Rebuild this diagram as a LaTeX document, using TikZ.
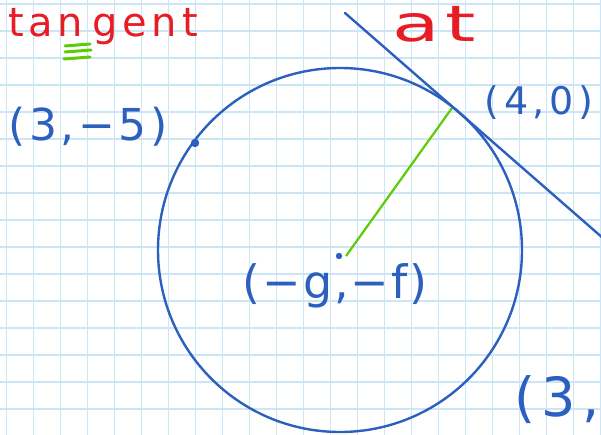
\documentclass[tikz,border=0pt]{standalone}
\usepackage{fontspec}
\setmainfont{DejaVu Sans}
\definecolor{inkBlue}{RGB}{44,96,190}
\definecolor{inkRed}{RGB}{232,28,36}
\definecolor{inkGreen}{RGB}{92,204,8}
\definecolor{gridBlue}{RGB}{204,230,248}

\begin{document}
\begin{tikzpicture}[
    x=1pt, y=-1pt,
    % Styles
    gridline/.style={draw=gridBlue, line width=1.3pt},
    ink/.style={draw=inkBlue, line width=2.4pt, line cap=round},
    radius line/.style={draw=inkGreen, line width=2.2pt},
    bluetext/.style={
        text=inkBlue,
        inner sep=0pt,
        font=\fontsize{40}{40}\selectfont\addfontfeatures{LetterSpace=12}
    },
    redtext/.style={
        text=inkRed,
        inner sep=0pt,
        font=\fontsize{40}{40}\selectfont\addfontfeatures{LetterSpace=12}
    }
]

    % ---------------------------------------------------------
    % PAPER: background and squared grid
    % ---------------------------------------------------------
    \useasboundingbox (0,0) rectangle (601,435);
    \clip (0,0) rectangle (601,435);
    \fill[white] (0,0) rectangle (601,435);
    \foreach \gx in {0,...,22}
        \draw[gridline] (6.5+27*\gx,0) -- (6.5+27*\gx,435);
    \foreach \gy in {0,...,16}
        \draw[gridline] (0,4+27*\gy) -- (601,4+27*\gy);

    % ---------------------------------------------------------
    % CIRCLE, RADIUS AND TANGENT
    % ---------------------------------------------------------
    \coordinate (ctr) at (340,250);
    \coordinate (touch) at (452,108);
    \coordinate (tanA) at (345,13);
    \coordinate (tanB) at (612,246);
    \coordinate (centre) at (339,256);
    \coordinate (pointP) at (195,143);

    \draw[ink] (ctr) circle[radius=182];
    \draw[radius line] (ctr) ++(6,6) -- (touch);
    \draw[ink] (tanA) -- (tanB);

    \fill[inkBlue] (centre) circle[radius=3.2];
    \fill[inkBlue] (pointP) circle[radius=4.2];

    % ---------------------------------------------------------
    % LABELS
    % ---------------------------------------------------------
    \node[redtext, anchor=base east] (tangent) at (198,37) {tan\hspace{9pt}gent};
    \node[redtext, anchor=base west,
          font=\fontsize{50}{50}\selectfont\addfontfeatures{LetterSpace=8}]
        (at) at (392,42) {\scalebox{1.55}[1]{at}};

    % green marks under the word
    \draw[radius line, line width=3pt, line cap=round] (65,46) -- (90,44);
    \draw[radius line, line width=3pt, line cap=round] (65,52) -- (91,50);
    \draw[radius line, line width=3pt, line cap=round] (64,59) -- (90,57);

    \node[bluetext, font=\fontsize{44}{44}\selectfont\addfontfeatures{LetterSpace=8}]
        (labelP) at (88,127) {(3,−5)};
    \node[bluetext, font=\fontsize{38}{38}\selectfont\addfontfeatures{LetterSpace=12}]
        (labelT) at (539,103) {(4,0)};
    \node[bluetext, font=\fontsize{46}{46}\selectfont\addfontfeatures{LetterSpace=4}]
        (labelC) at (335,286) {(−g,−f)};
    \node[bluetext, anchor=west, font=\fontsize{54}{54}\selectfont\addfontfeatures{LetterSpace=12}]
        (labelQ) at (514,400) {(3,};

\end{tikzpicture}
\end{document}
